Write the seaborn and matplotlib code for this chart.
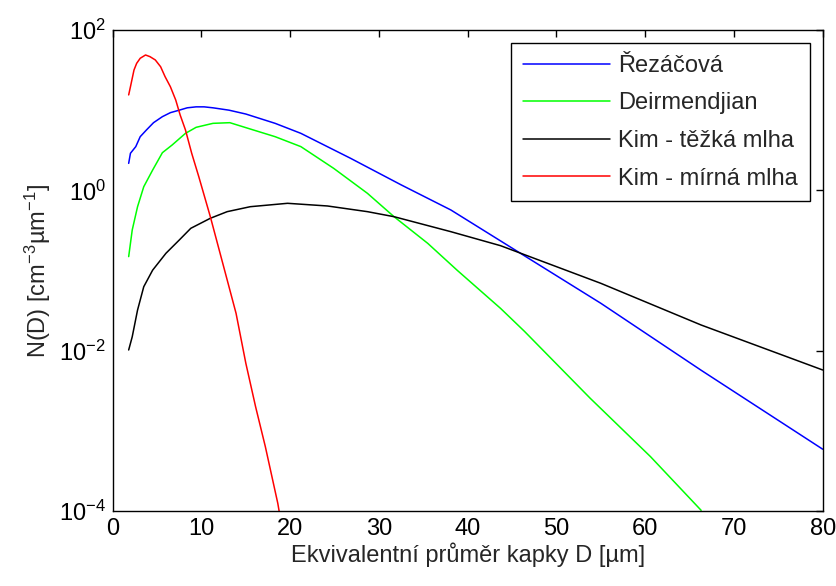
import numpy as np
import pandas as pd
import matplotlib
matplotlib.use("Agg")
import matplotlib.pyplot as plt
import seaborn as sns

# ---- data ----
series_names = ["Řezáčová", "Deirmendjian", "Kim - těžká mlha", "Kim - mírná mlha"]

D_rez = [1.8, 2.0, 2.6, 3.1, 3.8, 4.6, 5.6, 6.5, 7.5, 8.4, 9.4, 10.3, 11.3, 13.1, 15.0, 18.3, 21.2,
         26.8, 32.5, 38.1, 43.7, 55.0, 66.3, 80.0]
N_rez = [2.17, 2.90, 3.51, 4.67, 5.66, 6.98, 8.30, 9.31, 10.0, 10.7, 11.0, 11.0, 10.7, 10.0, 8.95,
         6.85, 5.14, 2.51, 1.17, 0.569, 0.234, 0.039, 0.0057, 0.00059]

D_dei = [1.8, 2.2, 2.8, 3.5, 4.5, 5.6, 6.7, 8.2, 9.4, 11.3, 13.2, 15.5, 18.3, 21.2, 24.9, 28.7,
         31.7, 35.5, 38.8, 43.7, 46.4, 53.8, 60.6, 66.3]
N_dei = [0.149, 0.320, 0.625, 1.11, 1.79, 2.95, 3.68, 5.14, 6.11, 6.85, 6.98, 5.82, 4.67, 3.51, 1.88,
         0.918, 0.469, 0.218, 0.101, 0.0337, 0.0174, 0.00255, 0.000476, 0.000102]

D_kh = [1.8, 2.2, 2.8, 3.5, 4.5, 6.0, 7.5, 8.8, 11.0, 12.9, 15.5, 19.7, 24.2, 28.7, 31.7, 38.1,
        43.7, 55.0, 66.3, 80.0]
N_kh = [0.0102, 0.0149, 0.0321, 0.0628, 0.101, 0.164, 0.240, 0.336, 0.448, 0.542, 0.625, 0.689,
        0.638, 0.542, 0.469, 0.305, 0.204, 0.0692, 0.0209, 0.00574]

D_km = [1.8, 2.0, 2.4, 2.7, 3.1, 3.7, 4.2, 4.8, 5.4, 5.9, 6.5, 7.1, 7.6, 8.2, 8.9, 9.7, 11.0,
        12.9, 13.9, 15.0, 16.1, 17.2, 18.6, 18.75]
N_km = [15.5, 19.6, 31.7, 38.4, 44.4, 48.8, 46.5, 42.3, 34.8, 26.2, 19.6, 13.4, 8.71, 5.66, 2.90,
        1.48, 0.469, 0.0762, 0.0292, 0.00697, 0.0020, 0.000634, 0.000125, 0.0001]

x_ticks = [0, 10, 20, 30, 40, 50, 60, 70, 80]
y_ticks = [1e-4, 1e-2, 1e0, 1e2]

colors = {"Řezáčová": "#0000FF", "Deirmendjian": "#00FF00",
          "Kim - těžká mlha": "#000000", "Kim - mírná mlha": "#FF0000"}

frames = []
for name, d, n in zip(series_names, [D_rez, D_dei, D_kh, D_km], [N_rez, N_dei, N_kh, N_km]):
    frames.append(pd.DataFrame({"D": d, "N": n, "series": name}))
df = pd.concat(frames, ignore_index=True)

sns.set_style("white")
plt.rcParams["font.family"] = ["Liberation Sans", "DejaVu Sans"]
plt.rcParams["mathtext.fontset"] = "custom"
plt.rcParams["mathtext.rm"] = "Liberation Sans"
plt.rcParams["mathtext.it"] = "Liberation Sans"

FS = 17

fig = plt.figure(figsize=(8.37, 5.86), dpi=100)
ax = fig.add_axes([112.7 / 837, 1 - 511 / 586, (822.7 - 112.7) / 837, (511 - 30) / 586])

sns.lineplot(data=df, x="D", y="N", hue="series", hue_order=series_names, palette=colors,
             estimator=None, sort=False, linewidth=1.1, ax=ax)

ax.set_yscale("log")
ax.set_xlim(0, 80)
ax.set_ylim(1e-4, 1e2)
ax.set_xticks(x_ticks)
ax.set_yticks(y_ticks)
ax.yaxis.set_minor_locator(matplotlib.ticker.NullLocator())
ax.tick_params(axis="both", which="major", direction="in", length=5, width=1, top=True, right=True,
               labelsize=FS, colors="black", pad=5)
for s in ax.spines.values():
    s.set_visible(True)
    s.set_color("black")
    s.set_linewidth(1)

ax.set_xlabel("Ekvivalentní průměr kapky D [µm]", fontsize=FS, labelpad=2)
ax.set_ylabel("N(D) [cm$^{-3}$µm$^{-1}$]", fontsize=FS, labelpad=4)

leg = ax.legend(loc="upper right", fontsize=FS, handlelength=3.7, handletextpad=0.35,
                borderaxespad=0.55, labelspacing=0.66, frameon=True, fancybox=False,
                edgecolor="black", framealpha=1, borderpad=0.5)
leg.get_frame().set_linewidth(1)
for line in leg.get_lines():
    line.set_linewidth(1.1)

fig.savefig("out.png", dpi=100, facecolor="white")
